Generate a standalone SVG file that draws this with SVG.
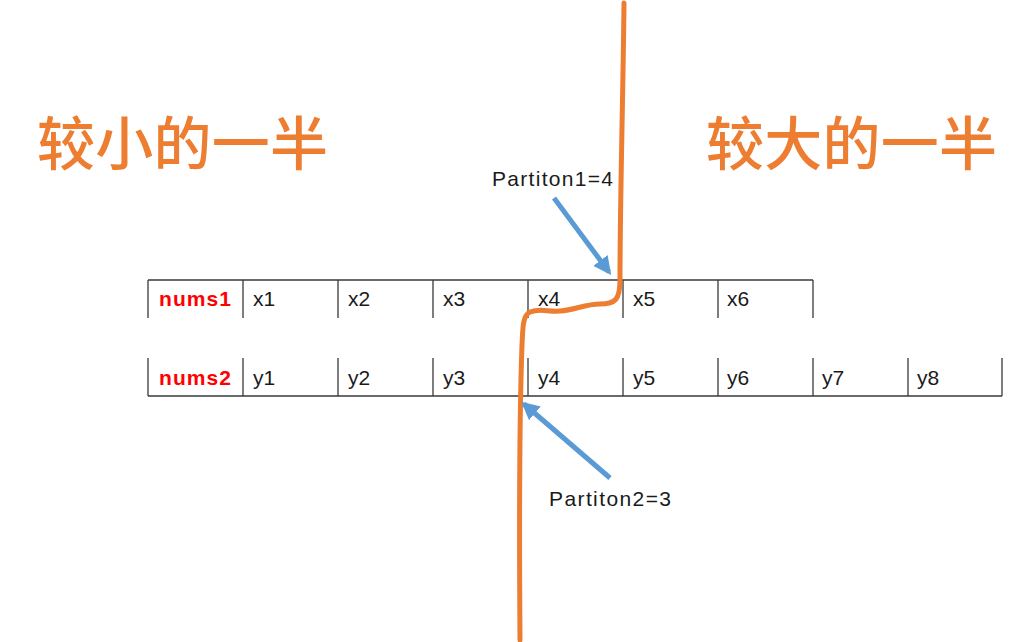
<svg xmlns="http://www.w3.org/2000/svg" width="1036" height="642" viewBox="0 0 1036 642">
<defs>
<style>
.grid{stroke:#3a3a3a;stroke-width:1.3;fill:none}
.cell{font-family:"Liberation Sans",Arial,sans-serif;font-size:21px;fill:#1a1a1a}
.lbl{font-family:"Liberation Sans",Arial,sans-serif;font-size:21px;font-weight:bold;fill:#ff0000}
.big{font-family:"Noto Sans CJK SC",sans-serif;font-size:58px;font-weight:500;fill:#ed7d31}
.note{font-family:"Liberation Sans",Arial,sans-serif;font-size:21px;fill:#1a1a1a}
.arr{stroke:#5b9bd5;stroke-width:5;fill:none}
</style>
<marker id="ah" viewBox="0 0 10 10" refX="8" refY="5" markerWidth="3.6" markerHeight="3.6" orient="auto" markerUnits="strokeWidth">
<path d="M0,0 L10,5 L0,10 z" fill="#5b9bd5"/>
</marker>
</defs>
<rect width="1036" height="642" fill="#fff"/>
<g id="title-left"><text class="big" x="37" y="165" textLength="291">较小的一半</text></g>
<g id="title-right"><text class="big" x="706" y="165" textLength="291">较大的一半</text></g>
<g id="nums1">
<path class="grid" d="M148,280 H813 M148,280 V318 M243,280 V318 M338,280 V318 M433,280 V318 M528,280 V318 M623,280 V318 M718,280 V318 M813,280 V318"/>
<text class="lbl" x="159" y="306" textLength="72">nums1</text>
<text class="cell" x="253" y="306">x1</text>
<text class="cell" x="348" y="306">x2</text>
<text class="cell" x="443" y="306">x3</text>
<text class="cell" x="538" y="306">x4</text>
<text class="cell" x="633" y="306">x5</text>
<text class="cell" x="727" y="306">x6</text>
</g>
<g id="nums2">
<path class="grid" d="M148,396 H1002 M148,358 V396 M243,358 V396 M338,358 V396 M433,358 V396 M528,358 V396 M623,358 V396 M718,358 V396 M813,358 V396 M908,358 V396 M1002,358 V396"/>
<text class="lbl" x="159" y="385" textLength="72">nums2</text>
<text class="cell" x="253" y="385">y1</text>
<text class="cell" x="348" y="385">y2</text>
<text class="cell" x="443" y="385">y3</text>
<text class="cell" x="538" y="385">y4</text>
<text class="cell" x="633" y="385">y5</text>
<text class="cell" x="727" y="385">y6</text>
<text class="cell" x="822" y="385">y7</text>
<text class="cell" x="917" y="385">y8</text>
</g>
<g id="partition-line">
<path d="M624,3 C623,100 620,200 620,280 C620,300 615,304 600,304 C585,304 575,310 560,311 C548,312 540,308 530,312 C522,316 523,330 522,345 C520,400 519,500 520,640" fill="none" stroke="#ed7d31" stroke-width="5" stroke-linecap="round"/>
</g>
<g id="label1"><text class="note" x="492" y="186" textLength="121">Partiton1=4</text></g>
<g id="label2"><text class="note" x="549" y="506" textLength="122">Partiton2=3</text></g>
<g id="connectors">
<line class="arr" x1="554" y1="198" x2="609" y2="272" marker-end="url(#ah)"/>
<line class="arr" x1="610" y1="478" x2="524" y2="404" marker-end="url(#ah)"/>
</g>
</svg>
